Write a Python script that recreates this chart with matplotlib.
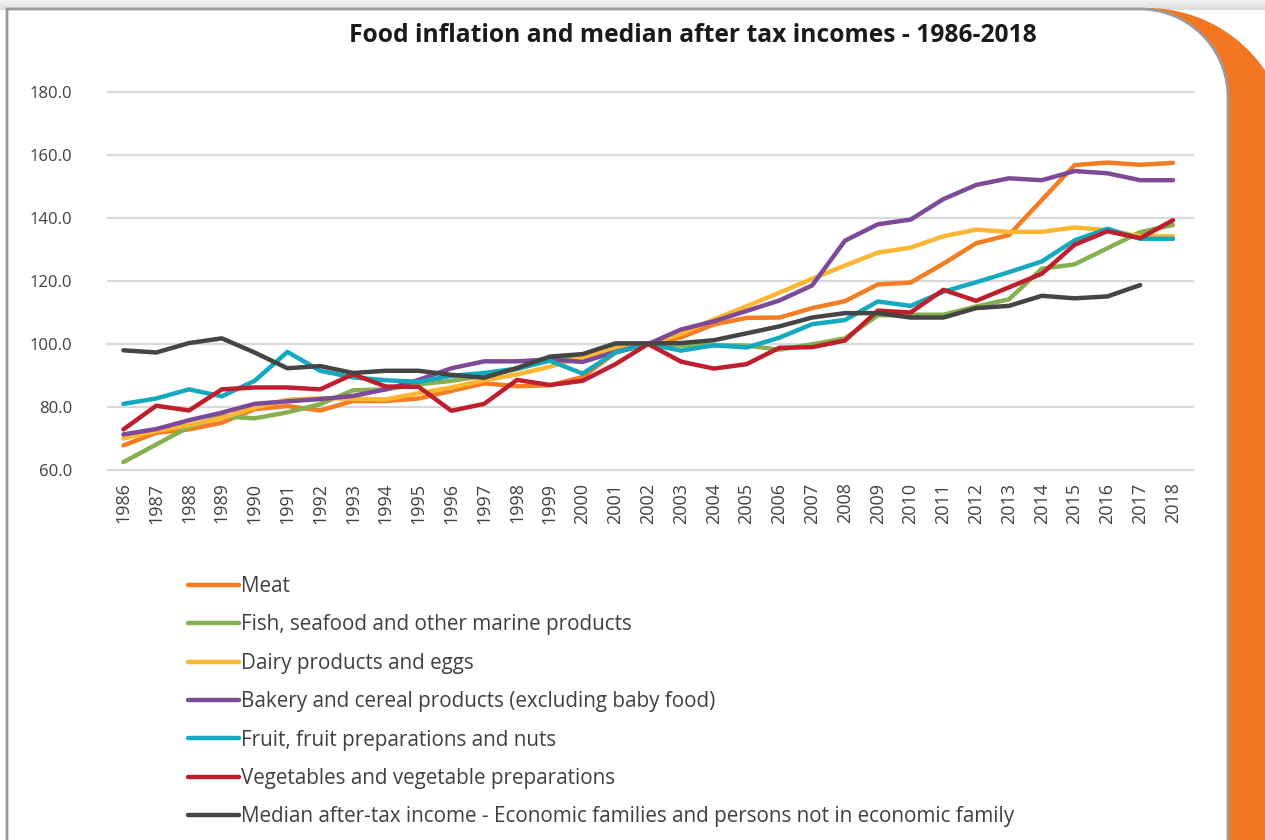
import matplotlib
matplotlib.use("Agg")
import matplotlib.pyplot as plt
import numpy as np
from matplotlib.patches import Polygon
from matplotlib.lines import Line2D

plt.rcParams['font.family'] = ['Open Sans', 'DejaVu Sans']

title = "Food inflation and median after tax incomes - 1986-2018"

years = list(range(1986, 2019))

meat = [67.8, 71.8, 72.9, 75.0, 79.3, 80.3, 78.9, 81.9, 81.9, 82.7, 85.1, 87.5,
        86.6, 86.9, 89.5, 97.3, 100.0, 102.1, 106.2, 108.3, 108.4, 111.4, 113.6,
        118.9, 119.5, 125.5, 132.0, 134.6, 145.7, 156.8, 157.6, 156.9, 157.5]
fish = [62.5, 68.1, 73.7, 77.1, 76.4, 78.3, 80.9, 85.3, 85.6, 87.2, 88.3, 89.9,
        92.0, 95.0, 96.6, 98.9, 100.0, 99.5, 99.6, 99.5, 98.2, 99.9, 101.8,
        109.1, 109.3, 109.3, 111.9, 114.2, 123.9, 125.3, 130.4, 135.5, 137.8]
dairy = [70.0, 72.4, 74.2, 76.5, 79.8, 82.3, 82.8, 82.6, 82.4, 84.4, 86.2, 88.5,
         90.3, 92.8, 95.8, 98.5, 100.0, 103.2, 107.8, 112.0, 116.3, 120.7, 124.9,
         129.0, 130.6, 134.2, 136.3, 135.6, 135.6, 137.0, 136.2, 134.2, 134.2]
bakery = [71.3, 73.0, 75.8, 78.2, 81.0, 81.8, 82.5, 83.5, 85.6, 88.6, 92.3, 94.5,
          94.5, 95.1, 94.3, 97.5, 100.0, 104.6, 107.2, 110.5, 113.8, 118.6, 132.8,
          138.0, 139.5, 146.0, 150.5, 152.6, 152.0, 154.9, 154.2, 152.0, 152.0]
fruit = [81.0, 82.7, 85.6, 83.4, 88.3, 97.5, 91.5, 89.4, 88.5, 88.0, 89.9, 90.8,
         92.2, 94.7, 90.6, 97.3, 100.0, 97.9, 99.6, 98.9, 102.0, 106.3, 107.6,
         113.5, 112.1, 116.6, 119.6, 122.8, 126.2, 132.9, 136.6, 133.4, 133.4]
vegetables = [72.9, 80.4, 78.9, 85.6, 86.2, 86.2, 85.6, 90.4, 86.5, 86.4, 78.8, 81.0,
              88.6, 87.0, 88.3, 93.6, 100.0, 94.4, 92.2, 93.6, 98.8, 99.0, 101.1,
              110.6, 110.0, 117.2, 113.7, 118.0, 122.3, 131.5, 135.8, 133.6, 139.3]
median_income = [98.0, 97.3, 100.3, 101.8, 97.3, 92.3, 93.0, 90.8, 91.5, 91.5, 90.2, 89.3,
                 92.4, 96.0, 96.8, 100.2, 100.2, 100.3, 101.2, 103.4, 105.6, 108.4, 109.8,
                 109.8, 108.4, 108.4, 111.4, 112.1, 115.3, 114.5, 115.1, 118.7, np.nan]

labels = [
    "Meat",
    "Fish, seafood and other marine products",
    "Dairy products and eggs",
    "Bakery and cereal products (excluding baby food)",
    "Fruit, fruit preparations and nuts",
    "Vegetables and vegetable preparations",
    "Median after-tax income - Economic families and persons not in economic family",
]
series = [meat, fish, dairy, bakery, fruit, vegetables, median_income]
colors = ["#F47C22", "#86B04F", "#FDB632", "#7D4A98", "#13A9BF", "#BE1E2D", "#454545"]

W, H = 1265, 840
fig = plt.figure(figsize=(W / 100, H / 100), dpi=100)
fig.patch.set_facecolor("white")

# page background: top shadow, orange tab and the card
bg = fig.add_axes([0, 0, 1, 1], zorder=0)
bg.set_xlim(0, W)
bg.set_ylim(H, 0)
bg.axis("off")
grad = np.linspace(0.95, 0.86, 20).reshape(-1, 1)
bg.imshow(grad, cmap="gray", vmin=0, vmax=1, extent=[0, W, 10, 0], aspect="auto")


def top_right_round(x0, y0, x1, y1, r):
    t = np.linspace(-np.pi / 2, 0, 40)
    arc = list(zip(x1 - r + r * np.cos(t), y0 + r + r * np.sin(t)))
    return [(x0, y1), (x0, y0)] + arc + [(x1, y1)]


bg.add_patch(Polygon(top_right_round(1050, 8, 1290, 900, 143), closed=True,
                     facecolor="#F37721", edgecolor="none"))
bg.add_patch(Polygon(top_right_round(7, 9, 1228, 900, 88), closed=True,
                     facecolor="white", edgecolor="#9a9a9a", lw=2))

fig.text(693 / W, 1 - 35 / H, title, ha="center", va="center",
         fontsize=17.7, fontweight="bold", color="#1a1a1a")

ax = fig.add_axes([108 / W, (H - 470) / H, (1193 - 108) / W, (470 - 92) / H], zorder=2)
ax.patch.set_alpha(0)
for s in ax.spines.values():
    s.set_visible(False)

for vals, col in zip(series, colors):
    ax.plot(years, vals, color=col, lw=3.2, solid_capstyle="round",
            solid_joinstyle="round", clip_on=False, zorder=3)

ax.set_xlim(1985.53, 2018.61)
ax.set_ylim(60, 180)
ax.set_yticks(np.arange(60, 181, 20))
ax.set_yticklabels([f"{v:.1f}" for v in np.arange(60, 181, 20)])
ax.set_xticks(years)
ax.set_xticklabels([str(y) for y in years], rotation=90)
ax.tick_params(axis="y", length=0, pad=26, labelsize=12, labelcolor="#404040")
ax.tick_params(axis="x", length=0, pad=9, labelsize=13, labelcolor="#404040")
ax.yaxis.grid(True, color="#d9d9d9", lw=1.6, clip_on=False)
ax.set_axisbelow(True)

handles = [Line2D([], [], color=c, lw=3.2, solid_capstyle="round") for c in colors]
fig.legend(handles, labels, loc="upper left", bbox_to_anchor=(188 / W, 1 - 576 / H),
           frameon=False, fontsize=14.9, handlelength=2.45, handletextpad=0.1,
           labelspacing=0.84, borderpad=0, borderaxespad=0, labelcolor="#404040")

fig.savefig("out.png", dpi=100)
